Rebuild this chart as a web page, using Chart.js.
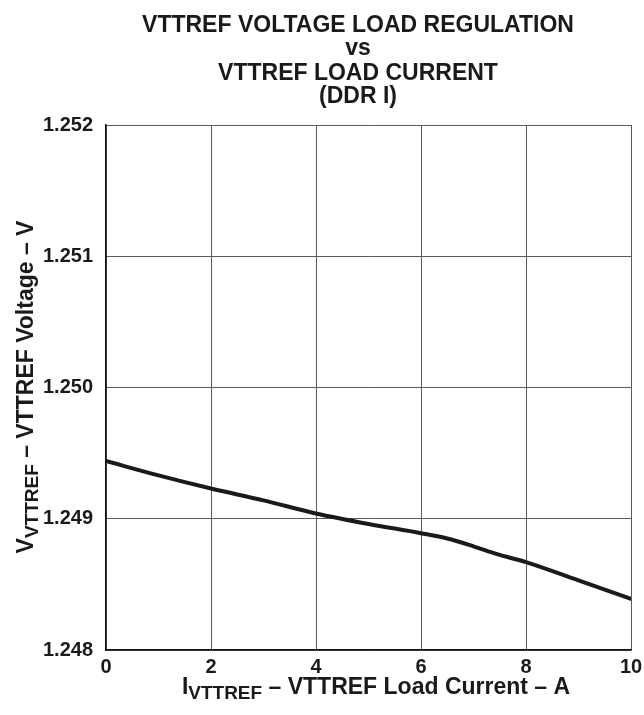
<!DOCTYPE html>
<html>
<head>
<meta charset="utf-8">
<script src="https://cdn.jsdelivr.net/npm/chart.js@4.4.0/dist/chart.umd.min.js"></script>
<style>
  html, body { margin: 0; padding: 0; background: #fff; }
  #wrap { width: 644px; height: 715px; position: relative; }
</style>
</head>
<body>
<div id="wrap"><canvas id="regChart"></canvas></div>
<script>
// load current (A) and VTTREF voltage (V)
var currentA = [0, 1, 2, 3, 4, 5, 6, 6.5, 7, 7.45, 8, 9, 10];
var voltageV = [1.24944, 1.24933, 1.24923, 1.24914, 1.24904, 1.24896, 1.24889, 1.24885, 1.24879, 1.24873, 1.24867, 1.24853, 1.24839];

var xTicks = [0, 2, 4, 6, 8, 10];
var yTicks = [1.248, 1.249, 1.250, 1.251, 1.252];

var titleLines = ['VTTREF VOLTAGE LOAD REGULATION', 'vs', 'VTTREF LOAD CURRENT', '(DDR I)'];

var FONT = "'Liberation Sans', Arial, sans-serif";

var points = [];
for (var i = 0; i < currentA.length; i++) {
  points.push({ x: currentA[i], y: voltageV[i] });
}

// draws title + axis titles (with subscripts)
var textPlugin = {
  id: 'textPlugin',
  afterDraw: function(chart) {
    var c = chart.ctx;
    c.save();
    c.fillStyle = '#1a1a1a';
    c.textAlign = 'center';
    c.textBaseline = 'alphabetic';
    c.font = 'bold 23px ' + FONT;
    var base = [32, 55, 80, 103];
    for (var i = 0; i < titleLines.length; i++) {
      c.fillText(titleLines[i], 358, base[i]);
    }

    // x axis title
    drawSub(c, 'I', 'VTTREF', ' \u2013 VTTREF Load Current \u2013 A', 376, 694);

    // y axis title, rotated
    c.translate(33, 387);
    c.rotate(-Math.PI / 2);
    drawSub(c, 'V', 'VTTREF', ' \u2013 VTTREF Voltage \u2013 V', 0, 0);
    c.restore();
  }
};

function drawSub(c, main, sub, rest, cx, y) {
  c.font = 'bold 23px ' + FONT;
  var w1 = c.measureText(main).width;
  var w3 = c.measureText(rest).width;
  c.font = 'bold 19px ' + FONT;
  var w2 = c.measureText(sub).width;
  var x = cx - (w1 + w2 + w3) / 2;
  c.textAlign = 'left';
  c.font = 'bold 23px ' + FONT;
  c.fillText(main, x, y);
  c.font = 'bold 19px ' + FONT;
  c.fillText(sub, x + w1, y + 5);
  c.font = 'bold 23px ' + FONT;
  c.fillText(rest, x + w1 + w2, y);
}

new Chart(document.getElementById('regChart'), {
  type: 'line',
  data: {
    datasets: [{
      data: points,
      borderColor: '#1a1a1a',
      borderWidth: 4,
      borderCapStyle: 'round',
      pointRadius: 0,
      cubicInterpolationMode: 'monotone',
      fill: false
    }]
  },
  options: {
    responsive: true,
    maintainAspectRatio: false,
    animation: false,
    layout: { padding: { top: 125, right: 13, left: 0, bottom: 0 } },
    plugins: {
      legend: { display: false },
      tooltip: { enabled: false }
    },
    scales: {
      x: {
        type: 'linear',
        min: 0,
        max: 10,
        afterBuildTicks: function(s) { s.ticks = xTicks.map(function(v) { return { value: v }; }); },
        afterFit: function(s) { s.height = 65; s.paddingLeft = 0; s.paddingRight = 0; },
        grid: { color: '#5a5a5a', lineWidth: 1, drawTicks: false },
        border: { color: '#111', width: 1.5 },
        ticks: {
          color: '#1a1a1a',
          padding: 5,
          font: { family: FONT, size: 20, weight: 'bold' },
          maxRotation: 0
        }
      },
      y: {
        type: 'linear',
        min: 1.248,
        max: 1.252,
        afterBuildTicks: function(s) { s.ticks = yTicks.map(function(v) { return { value: v }; }); },
        afterFit: function(s) { s.width = 106; s.paddingTop = 0; s.paddingBottom = 0; },
        grid: { color: '#5a5a5a', lineWidth: 1, drawTicks: false },
        border: { color: '#111', width: 1.5 },
        ticks: {
          color: '#1a1a1a',
          padding: 13,
          font: { family: FONT, size: 20, weight: 'bold' },
          callback: function(v) { return v.toFixed(3); }
        }
      }
    }
  },
  plugins: [textPlugin]
});
</script>
</body>
</html>
